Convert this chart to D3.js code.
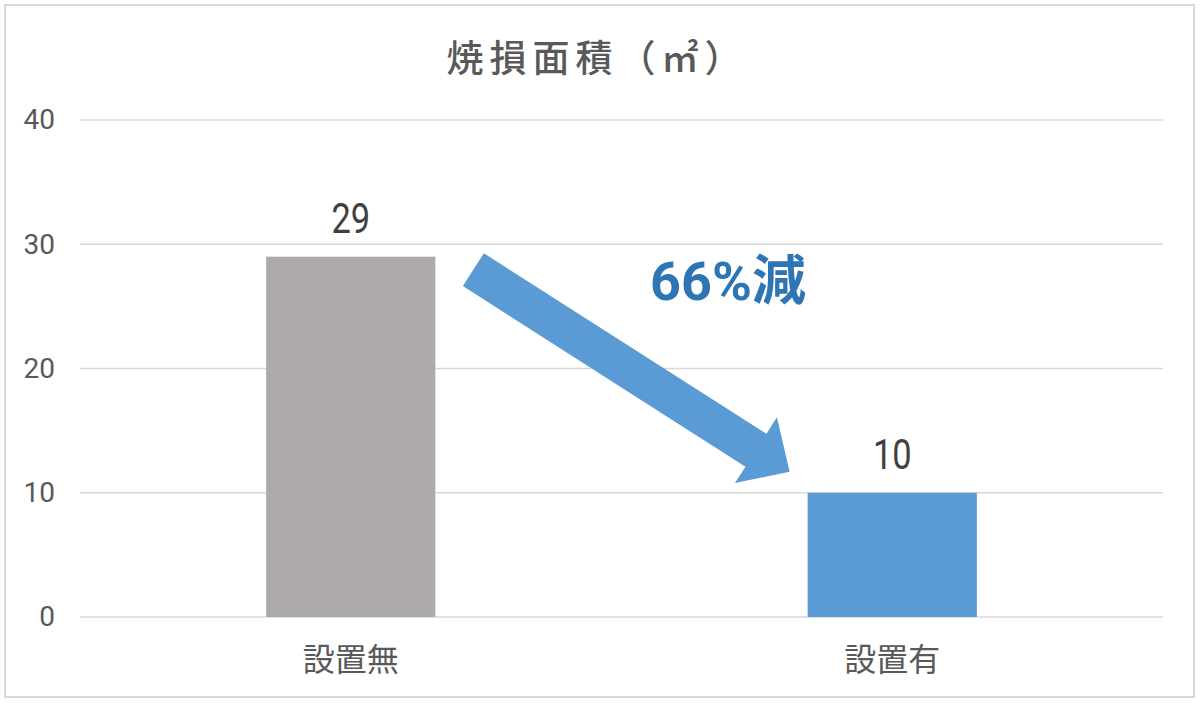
<!DOCTYPE html>
<html>
<head>
<meta charset="utf-8">
<script src="https://cdn.jsdelivr.net/npm/d3@7"></script>
<style>
  body { margin: 0; background: #fff; }
  text { font-family: Roboto, 'Noto Sans CJK JP', sans-serif; }
  .jp { font-family: 'Noto Sans CJK JP', sans-serif; }
</style>
</head>
<body>
<div id="chart"></div>
<script>
let categories = ['設置無', '設置有']
let values = [29, 10]
let barColors = ['#AEAAAA', '#5B9BD5']
let yTicks = [0, 10, 20, 30, 40]
let title = '焼損面積（㎡）'
let note = '66%減'

let width = 1200
let height = 703
let margin = { top: 120, left: 80, right: 37, bottom: 86 }

let svg = d3
  .select('#chart')
  .append('svg')
  .attr('width', width)
  .attr('height', height)

// outer frame
svg
  .append('rect')
  .attr('x', 5)
  .attr('y', 5)
  .attr('width', width - 11)
  .attr('height', height - 11)
  .attr('fill', 'white')
  .attr('stroke', '#d9d9d9')
  .attr('stroke-width', 2)

let xScale = d3
  .scaleBand()
  .domain(categories)
  .range([margin.left, width - margin.right])
  .paddingInner(0.6875)
  .paddingOuter(0.34375)

let yScale = d3
  .scaleLinear()
  .domain([0, 40])
  .range([height - margin.bottom, margin.top])

// gridlines
svg
  .selectAll('.grid')
  .data(yTicks)
  .enter()
  .append('line')
  .attr('class', 'grid')
  .attr('x1', margin.left)
  .attr('x2', width - margin.right)
  .attr('y1', d => yScale(d))
  .attr('y2', d => yScale(d))
  .attr('stroke', '#d9d9d9')
  .attr('stroke-width', 1.5)

// y axis labels
let yAxis = d3
  .axisLeft(yScale)
  .tickValues(yTicks)
  .tickSize(0)
  .tickPadding(25)

svg
  .append('g')
  .attr('transform', `translate(${margin.left},0)`)
  .call(yAxis)
  .call(g => g.select('.domain').remove())
  .selectAll('text')
  .attr('font-size', 28)
  .attr('fill', '#595959')
  .attr('font-family', null)

// bars
svg
  .selectAll('.bar')
  .data(values)
  .enter()
  .append('rect')
  .attr('class', 'bar')
  .attr('x', (d, i) => xScale(categories[i]))
  .attr('width', xScale.bandwidth())
  .attr('y', d => yScale(d))
  .attr('height', d => yScale(0) - yScale(d))
  .attr('fill', (d, i) => barColors[i])

// value labels (narrow digits like the original)
svg
  .selectAll('.value-label')
  .data(values)
  .enter()
  .append('text')
  .attr('class', 'value-label')
  .text(d => d)
  .attr('transform', (d, i) => {
    let cx = xScale(categories[i]) + xScale.bandwidth() / 2
    return `translate(${cx},${yScale(d) - 24}) scale(0.82,1)`
  })
  .attr('text-anchor', 'middle')
  .attr('font-size', 42)
  .attr('fill', '#404040')

// category labels
svg
  .selectAll('.cat-label')
  .data(categories)
  .enter()
  .append('text')
  .attr('class', 'cat-label jp')
  .text(d => d)
  .attr('x', d => xScale(d) + xScale.bandwidth() / 2)
  .attr('y', yScale(0) + 54)
  .attr('text-anchor', 'middle')
  .attr('font-size', 32)
  .attr('fill', '#595959')

// title
svg
  .append('text')
  .attr('class', 'jp')
  .text(title)
  .attr('x', 597)
  .attr('y', 72)
  .attr('text-anchor', 'middle')
  .attr('font-size', 37)
  .attr('font-weight', 500)
  .attr('letter-spacing', 6)
  .attr('fill', '#595959')

// arrow from the first bar down to the second
let start = [xScale(categories[0]) + xScale.bandwidth() + 38, yScale(values[0]) + 13]
let tip = [xScale(categories[1]) - 18, yScale(values[1]) - 21]
let dx = tip[0] - start[0]
let dy = tip[1] - start[1]
let len = Math.sqrt(dx * dx + dy * dy)
let u = [dx / len, dy / len]
let n = [-u[1], u[0]]
let shaftHalf = 19.5
let headHalf = 39
let headLen = 40
let base = [tip[0] - u[0] * headLen, tip[1] - u[1] * headLen]
let pt = (p, k) => [p[0] + n[0] * k, p[1] + n[1] * k]

let arrowPoints = [
  pt(start, -shaftHalf),
  pt(base, -shaftHalf),
  pt(base, -headHalf),
  tip,
  pt(base, headHalf),
  pt(base, shaftHalf),
  pt(start, shaftHalf)
]

svg
  .append('path')
  .attr('d', d3.line()(arrowPoints) + 'Z')
  .attr('fill', '#5B9BD5')

// reduction note
svg
  .append('text')
  .text(note)
  .attr('x', 728)
  .attr('y', 300)
  .attr('text-anchor', 'middle')
  .attr('font-size', 54)
  .attr('font-weight', 'bold')
  .attr('fill', '#2E75B6')
</script>
</body>
</html>
